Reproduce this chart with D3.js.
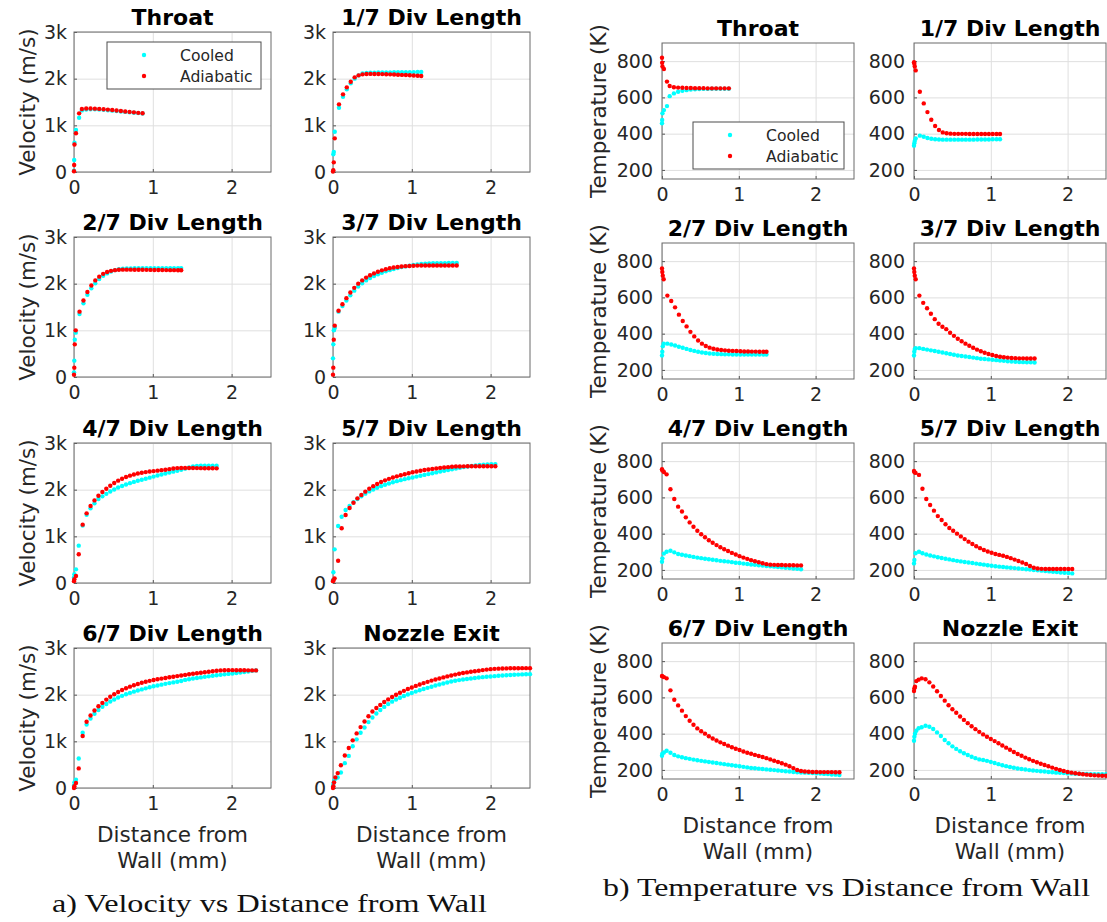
<!DOCTYPE html>
<html>
<head>
<meta charset="utf-8">
<script src="https://cdn.jsdelivr.net/npm/d3@7"></script>
<style>
    body { margin: 0; background: #fff; }
    svg { display: block; font-family: 'DejaVu Sans', sans-serif; }
</style>
</head>
<body>
<script>
// ticks and labels
const xTicks = [0, 1, 2];
const velTicks = [0, 1000, 2000, 3000];
const velTickLabels = ['0', '1k', '2k', '3k'];
const tempTicks = [200, 400, 600, 800];
const seriesNames = ['Cooled', 'Adiabatic'];
const stationTitles = ['Throat', '1/7 Div Length', '2/7 Div Length', '3/7 Div Length',
    '4/7 Div Length', '5/7 Div Length', '6/7 Div Length', 'Nozzle Exit'];

// throat
const throatX = [0, 0.002, 0.006, 0.025, 0.065, 0.1, 0.155, 0.21, 0.265, 0.32, 0.375, 0.43, 0.485, 0.54, 0.595, 0.65, 0.705, 0.76, 0.815, 0.87];
const throatVelCooled = [30, 257, 628, 900, 1164, 1320, 1338, 1342, 1342, 1338, 1332, 1324, 1315, 1306, 1297, 1288, 1279, 1270, 1262, 1255];
const throatVelAdiabatic = [15, 150, 590, 830, 1257, 1350, 1362, 1362, 1358, 1352, 1345, 1337, 1328, 1318, 1308, 1298, 1288, 1278, 1268, 1260];
const throatTempCooled = [457, 475, 512, 530, 552, 607, 622, 631, 636, 640, 643, 645, 646, 647, 647, 648, 648, 648, 648, 648];
const throatTempAdiabatic = [819, 791, 770, 757, 687, 663, 656, 654, 653, 652, 652, 651, 651, 651, 650, 650, 650, 650, 650, 650];

// 1/7 div length
const div1X = [0, 0.004, 0.01, 0.022, 0.076, 0.127, 0.175, 0.225, 0.275, 0.325, 0.375, 0.425, 0.475, 0.525, 0.575, 0.625, 0.675, 0.725, 0.775, 0.825, 0.875, 0.925, 0.975, 1.025, 1.075, 1.12];
const div1VelCooled = [20, 380, 430, 864, 1378, 1614, 1771, 1900, 2000, 2070, 2110, 2122, 2127, 2130, 2132, 2133, 2134, 2135, 2136, 2137, 2138, 2139, 2140, 2141, 2142, 2143];
const div1VelAdiabatic = [10, 40, 207, 721, 1450, 1664, 1814, 1935, 2028, 2071, 2093, 2100, 2102, 2101, 2100, 2098, 2095, 2092, 2089, 2085, 2081, 2077, 2072, 2067, 2062, 2057];
const div1TempCooled = [334, 347, 360, 374, 389, 383, 376, 372, 369, 368, 367, 367, 367, 367, 367, 367, 367, 367, 367, 368, 368, 368, 368, 369, 369, 369];
const div1TempAdiabatic = [794, 785, 770, 749, 631, 567, 519, 477, 442, 420, 407, 402, 400, 399, 399, 399, 399, 398, 398, 398, 398, 398, 398, 398, 398, 398];

// 2/7 div length
const div2X = [0, 0.004, 0.01, 0.022, 0.07, 0.12, 0.17, 0.22, 0.27, 0.32, 0.37, 0.42, 0.47, 0.52, 0.57, 0.62, 0.67, 0.72, 0.77, 0.82, 0.87, 0.92, 0.97, 1.02, 1.07, 1.12, 1.17, 1.22, 1.27, 1.32, 1.36];
const div2VelCooled = [100, 350, 800, 950, 1350, 1580, 1760, 1900, 2010, 2100, 2170, 2220, 2260, 2290, 2310, 2320, 2325, 2328, 2330, 2331, 2332, 2332, 2333, 2333, 2333, 2333, 2334, 2334, 2334, 2334, 2334];
const div2VelAdiabatic = [50, 200, 700, 1000, 1400, 1640, 1820, 1960, 2070, 2150, 2210, 2250, 2275, 2290, 2298, 2300, 2300, 2300, 2299, 2298, 2297, 2296, 2295, 2294, 2293, 2292, 2291, 2290, 2290, 2289, 2288];
const div2TempCooled = [280, 300, 330, 345, 345, 340, 335, 328, 322, 316, 310, 305, 300, 296, 293, 291, 289, 288, 287, 286, 286, 285, 285, 285, 285, 285, 285, 285, 285, 285, 285];
const div2TempAdiabatic = [760, 740, 720, 700, 610, 580, 545, 505, 470, 440, 410, 385, 362, 345, 332, 323, 317, 313, 310, 308, 306, 305, 304, 303, 302, 302, 301, 301, 300, 300, 300];

// 3/7 div length
const div3X = [0, 0.004, 0.01, 0.022, 0.07, 0.12, 0.17, 0.22, 0.27, 0.32, 0.37, 0.42, 0.47, 0.52, 0.57, 0.62, 0.67, 0.72, 0.77, 0.82, 0.87, 0.92, 0.97, 1.02, 1.07, 1.12, 1.17, 1.22, 1.27, 1.32, 1.37, 1.42, 1.47, 1.52, 1.57];
const div3VelCooled = [400, 700, 1000, 1050, 1400, 1520, 1640, 1750, 1850, 1940, 2010, 2070, 2120, 2165, 2200, 2235, 2265, 2290, 2315, 2335, 2355, 2370, 2385, 2400, 2410, 2420, 2428, 2433, 2436, 2438, 2440, 2441, 2442, 2442, 2442];
const div3VelAdiabatic = [50, 200, 800, 1100, 1420, 1560, 1690, 1810, 1910, 2000, 2070, 2130, 2180, 2220, 2255, 2285, 2310, 2330, 2345, 2358, 2368, 2375, 2380, 2384, 2387, 2389, 2390, 2390, 2390, 2390, 2390, 2390, 2389, 2389, 2388];
const div3TempCooled = [280, 300, 315, 320, 320, 316, 312, 308, 304, 300, 296, 292, 288, 284, 280, 277, 274, 271, 268, 265, 262, 260, 258, 256, 254, 252, 250, 248, 246, 245, 244, 243, 242, 242, 241];
const div3TempAdiabatic = [760, 740, 720, 700, 610, 570, 540, 510, 480, 455, 438, 425, 405, 388, 372, 358, 345, 333, 322, 312, 303, 295, 288, 282, 277, 273, 270, 268, 266, 265, 264, 264, 263, 263, 263];

// 4/7 div length
const div4X = [0, 0.005, 0.025, 0.06, 0.11, 0.16, 0.21, 0.26, 0.31, 0.36, 0.41, 0.46, 0.51, 0.56, 0.61, 0.66, 0.71, 0.76, 0.81, 0.86, 0.91, 0.96, 1.01, 1.06, 1.11, 1.16, 1.21, 1.26, 1.31, 1.36, 1.41, 1.46, 1.51, 1.56, 1.61, 1.66, 1.71, 1.76, 1.81];
const div4VelCooled = [120, 190, 293, 800, 1230, 1460, 1600, 1707, 1800, 1857, 1910, 1960, 2005, 2045, 2080, 2112, 2140, 2166, 2190, 2212, 2235, 2258, 2280, 2302, 2324, 2345, 2366, 2386, 2406, 2428, 2450, 2475, 2500, 2508, 2511, 2513, 2514, 2514, 2514];
const div4VelAdiabatic = [40, 80, 150, 615, 1250, 1493, 1650, 1770, 1871, 1950, 2021, 2085, 2143, 2193, 2235, 2270, 2300, 2325, 2345, 2362, 2376, 2388, 2398, 2408, 2418, 2428, 2440, 2452, 2462, 2465, 2465, 2464, 2463, 2462, 2461, 2460, 2459, 2458, 2457];
const div4TempCooled = [245, 264, 290, 300, 306, 297, 288, 284, 280, 276, 272, 268, 265, 262, 259, 256, 253, 250, 248, 246, 243, 240, 238, 235, 233, 230, 228, 226, 224, 222, 220, 218, 216, 214, 212, 210, 208, 206, 204];
const div4TempAdiabatic = [755, 748, 740, 727, 645, 591, 549, 522, 490, 462, 438, 416, 397, 380, 364, 350, 337, 325, 314, 304, 294, 285, 276, 268, 261, 254, 248, 242, 237, 232, 229, 228, 227, 227, 226, 226, 226, 225, 225];

// 5/7 div length
const div5X = [0, 0.005, 0.02, 0.065, 0.11, 0.16, 0.21, 0.26, 0.31, 0.36, 0.41, 0.46, 0.51, 0.56, 0.61, 0.66, 0.71, 0.76, 0.81, 0.86, 0.91, 0.96, 1.01, 1.06, 1.11, 1.16, 1.21, 1.26, 1.31, 1.36, 1.41, 1.46, 1.51, 1.56, 1.61, 1.66, 1.71, 1.76, 1.81, 1.86, 1.91, 1.96, 2.01, 2.06];
const div5VelCooled = [60, 229, 721, 1221, 1421, 1564, 1650, 1730, 1800, 1860, 1915, 1963, 2005, 2042, 2075, 2105, 2133, 2158, 2182, 2204, 2225, 2244, 2262, 2280, 2298, 2316, 2334, 2352, 2370, 2388, 2405, 2422, 2438, 2454, 2470, 2485, 2498, 2510, 2520, 2528, 2535, 2540, 2545, 2548];
const div5VelAdiabatic = [40, 60, 100, 478, 1172, 1457, 1607, 1721, 1814, 1886, 1957, 2020, 2075, 2122, 2163, 2200, 2232, 2260, 2285, 2308, 2330, 2352, 2372, 2390, 2406, 2420, 2433, 2445, 2456, 2466, 2475, 2483, 2490, 2495, 2498, 2500, 2501, 2502, 2502, 2502, 2502, 2502, 2503, 2503];
const div5TempCooled = [236, 255, 292, 300, 292, 285, 280, 275, 270, 266, 262, 258, 254, 250, 247, 244, 241, 238, 235, 232, 229, 226, 223, 220, 218, 216, 214, 212, 210, 208, 206, 204, 202, 200, 198, 196, 194, 192, 190, 188, 186, 184, 183, 181];
const div5TempAdiabatic = [746, 740, 735, 724, 648, 591, 558, 527, 497, 475, 452, 431, 416, 400, 385, 370, 356, 343, 331, 320, 310, 302, 295, 288, 283, 278, 272, 265, 257, 249, 241, 233, 222, 212, 208, 206, 205, 205, 205, 205, 205, 205, 205, 205];

// 6/7 div length
const div6X = [0, 0.005, 0.025, 0.06, 0.11, 0.16, 0.21, 0.26, 0.31, 0.36, 0.41, 0.46, 0.51, 0.56, 0.61, 0.66, 0.71, 0.76, 0.81, 0.86, 0.91, 0.96, 1.01, 1.06, 1.11, 1.16, 1.21, 1.26, 1.31, 1.36, 1.41, 1.46, 1.51, 1.56, 1.61, 1.66, 1.71, 1.76, 1.81, 1.86, 1.91, 1.96, 2.01, 2.06, 2.11, 2.16, 2.21, 2.26, 2.31];
const div6VelCooled = [50, 120, 177, 632, 1185, 1362, 1489, 1590, 1670, 1740, 1800, 1852, 1898, 1938, 1975, 2008, 2038, 2065, 2090, 2113, 2135, 2160, 2180, 2198, 2215, 2232, 2248, 2263, 2278, 2292, 2316, 2330, 2345, 2358, 2370, 2382, 2393, 2404, 2415, 2425, 2435, 2445, 2455, 2465, 2476, 2487, 2498, 2510, 2520];
const div6VelAdiabatic = [0, 40, 107, 420, 1113, 1420, 1553, 1660, 1753, 1824, 1894, 1955, 2010, 2058, 2100, 2138, 2172, 2203, 2230, 2255, 2277, 2296, 2313, 2329, 2344, 2358, 2372, 2385, 2398, 2411, 2424, 2437, 2449, 2460, 2471, 2481, 2492, 2502, 2512, 2520, 2524, 2525, 2525, 2524, 2523, 2522, 2521, 2520, 2520];
const div6TempCooled = [278, 290, 296, 306, 295, 282, 275, 270, 265, 261, 257, 253, 250, 247, 244, 241, 238, 235, 232, 229, 226, 223, 220, 217, 214, 211, 209, 207, 205, 203, 201, 199, 197, 195, 193, 191, 189, 187, 186, 185, 184, 183, 181, 180, 178, 177, 175, 174, 172];
const div6TempAdiabatic = [718, 716, 712, 705, 639, 587, 556, 527, 497, 471, 449, 429, 413, 400, 386, 373, 362, 352, 343, 334, 325, 317, 310, 302, 295, 289, 283, 277, 271, 265, 258, 251, 244, 237, 229, 220, 210, 200, 194, 191, 190, 189, 189, 188, 188, 188, 188, 187, 187];

// nozzle exit
const exitX = [0, 0.005, 0.013, 0.03, 0.06, 0.1, 0.15, 0.2, 0.25, 0.3, 0.35, 0.4, 0.45, 0.5, 0.55, 0.6, 0.65, 0.7, 0.75, 0.8, 0.85, 0.9, 0.95, 1.0, 1.05, 1.1, 1.15, 1.2, 1.25, 1.3, 1.35, 1.4, 1.45, 1.5, 1.55, 1.6, 1.65, 1.7, 1.75, 1.8, 1.85, 1.9, 1.95, 2.0, 2.05, 2.1, 2.15, 2.2, 2.25, 2.3, 2.35, 2.4, 2.45, 2.5];
const exitVelCooled = [33, 90, 150, 200, 225, 333, 532, 688, 894, 1043, 1185, 1298, 1412, 1510, 1595, 1670, 1738, 1798, 1850, 1895, 1935, 1971, 2004, 2036, 2066, 2094, 2121, 2146, 2171, 2195, 2218, 2240, 2262, 2283, 2298, 2312, 2325, 2337, 2348, 2358, 2367, 2375, 2383, 2390, 2397, 2404, 2410, 2416, 2421, 2426, 2430, 2434, 2437, 2440];
const exitVelAdiabatic = [0, 40, 121, 227, 319, 489, 695, 857, 1021, 1170, 1305, 1426, 1538, 1638, 1713, 1781, 1843, 1899, 1950, 1997, 2041, 2082, 2120, 2155, 2188, 2219, 2248, 2275, 2301, 2325, 2348, 2370, 2391, 2411, 2430, 2447, 2463, 2477, 2490, 2502, 2514, 2526, 2537, 2547, 2553, 2558, 2561, 2563, 2565, 2566, 2567, 2568, 2568, 2568];
const exitTempCooled = [361, 383, 400, 416, 430, 435, 444, 438, 426, 407, 387, 365, 347, 330, 316, 303, 292, 282, 273, 265, 258, 255, 250, 244, 238, 232, 226, 221, 216, 212, 208, 205, 202, 199, 197, 195, 193, 191, 189, 187, 185, 184, 183, 181, 180, 179, 179, 178, 178, 177, 177, 177, 177, 177];
const exitTempAdiabatic = [635, 650, 659, 690, 698, 705, 700, 683, 660, 634, 608, 582, 557, 535, 515, 495, 476, 458, 441, 425, 410, 396, 383, 371, 359, 347, 335, 323, 311, 299, 288, 278, 268, 259, 250, 242, 234, 227, 220, 213, 206, 200, 194, 189, 185, 182, 179, 176, 174, 172, 170, 169, 168, 168];

let stations = [
    { x: throatX, vel: [throatVelCooled, throatVelAdiabatic], temp: [throatTempCooled, throatTempAdiabatic] },
    { x: div1X, vel: [div1VelCooled, div1VelAdiabatic], temp: [div1TempCooled, div1TempAdiabatic] },
    { x: div2X, vel: [div2VelCooled, div2VelAdiabatic], temp: [div2TempCooled, div2TempAdiabatic] },
    { x: div3X, vel: [div3VelCooled, div3VelAdiabatic], temp: [div3TempCooled, div3TempAdiabatic] },
    { x: div4X, vel: [div4VelCooled, div4VelAdiabatic], temp: [div4TempCooled, div4TempAdiabatic] },
    { x: div5X, vel: [div5VelCooled, div5VelAdiabatic], temp: [div5TempCooled, div5TempAdiabatic] },
    { x: div6X, vel: [div6VelCooled, div6VelAdiabatic], temp: [div6TempCooled, div6TempAdiabatic] },
    { x: exitX, vel: [exitVelCooled, exitVelAdiabatic], temp: [exitTempCooled, exitTempAdiabatic] }
];

const colors = ['#00ffff', '#ff0000'];
const textColor = '#262626';

let svg = d3.select('body').append('svg')
    .attr('width', 1107)
    .attr('height', 922);

let velPanel = {
    key: 'vel', lefts: [74, 333], tops: [32, 237, 443, 648], w: 197, h: 140,
    yDomain: [0, 3000], yTicks: velTicks, yFormat: (d, i) => velTickLabels[i],
    yLabel: 'Velocity (m/s)', yLabelX: 35, yPad: 7,
    legend: { x: 107, y: 42, w: 154, h: 47 }
};
let tempPanel = {
    key: 'temp', lefts: [662, 914], tops: [43, 243, 443, 643], w: 192, h: 136,
    yDomain: [150, 900], yTicks: tempTicks, yFormat: d => d,
    yLabel: 'Temperature (K)', yLabelX: 606, yPad: 9,
    legend: { x: 693, y: 122, w: 151, h: 47 }
};

function drawPanel(p, st, i) {
    let col = i % 2;
    let row = Math.floor(i / 2);
    let g = svg.append('g').attr('transform', `translate(${p.lefts[col]},${p.tops[row]})`);
    let x = d3.scaleLinear().domain([0, 2.5]).range([0, p.w]);
    let y = d3.scaleLinear().domain(p.yDomain).range([p.h, 0]);

    // grid
    g.append('g').attr('transform', `translate(0,${p.h})`)
        .call(d3.axisBottom(x).tickValues(xTicks).tickSize(-p.h).tickFormat(''))
        .call(a => a.select('.domain').remove())
        .selectAll('line').attr('stroke', '#dfdfdf');
    g.append('g')
        .call(d3.axisLeft(y).tickValues(p.yTicks).tickSize(-p.w).tickFormat(''))
        .call(a => a.select('.domain').remove())
        .selectAll('line').attr('stroke', '#dfdfdf');

    // tick labels + small inward ticks
    let xa = g.append('g').attr('transform', `translate(0,${p.h})`)
        .call(d3.axisBottom(x).tickValues(xTicks).tickSize(-3).tickPadding(9).tickFormat(d => d));
    let ya = g.append('g')
        .call(d3.axisLeft(y).tickValues(p.yTicks).tickSize(-3).tickPadding(p.yPad).tickFormat(p.yFormat));
    [xa, ya].forEach(a => {
        a.select('.domain').remove();
        a.selectAll('line').attr('stroke', '#555');
        a.selectAll('text').attr('fill', textColor).style('font-size', '19px').style('font-family', 'DejaVu Sans');
    });

    g.append('rect').attr('width', p.w).attr('height', p.h)
        .attr('fill', 'none').attr('stroke', '#6b6b6b').attr('stroke-width', 1);

    // points, cooled first so adiabatic sits on top
    st[p.key].forEach((ys, k) => {
        g.append('g').selectAll('circle').data(ys).enter().append('circle')
            .attr('cx', (d, j) => x(st.x[j]))
            .attr('cy', d => y(d))
            .attr('r', 2.2)
            .attr('fill', colors[k]);
    });

    g.append('text')
        .attr('x', p.w / 2).attr('y', -7)
        .attr('text-anchor', 'middle')
        .style('font-size', '22px').style('font-weight', 'bold')
        .text(stationTitles[i]);

    if (col === 0) {
        svg.append('text')
            .attr('transform', `translate(${p.yLabelX},${p.tops[row] + p.h / 2}) rotate(-90)`)
            .attr('text-anchor', 'middle')
            .attr('fill', textColor)
            .style('font-size', '21.5px')
            .text(p.yLabel);
    }
    if (row === 3) {
        ['Distance from', 'Wall (mm)'].forEach((t, k) => {
            g.append('text')
                .attr('x', p.w / 2).attr('y', p.h + 54 + k * 26)
                .attr('text-anchor', 'middle')
                .attr('fill', textColor)
                .style('font-size', '21.5px')
                .text(t);
        });
    }
}

function drawLegend(p) {
    let l = p.legend;
    let g = svg.append('g').attr('transform', `translate(${l.x},${l.y})`);
    g.append('rect').attr('width', l.w).attr('height', l.h)
        .attr('fill', '#fff').attr('stroke', '#4d4d4d').attr('stroke-width', 1);
    seriesNames.forEach((name, k) => {
        g.append('circle').attr('cx', 37).attr('cy', 13 + k * 21).attr('r', 2.2).attr('fill', colors[k]);
        g.append('text').attr('x', 73).attr('y', 19 + k * 21)
            .attr('fill', textColor)
            .style('font-size', '15.6px')
            .text(name);
    });
}

[velPanel, tempPanel].forEach(p => {
    stations.forEach((st, i) => drawPanel(p, st, i));
    drawLegend(p);
});

// captions
let captions = [
    { text: 'a) Velocity vs Distance from Wall', x: 52, y: 912, len: 435 },
    { text: 'b) Temperature vs Distance from Wall', x: 603, y: 896, len: 487 }
];
svg.selectAll('.caption').data(captions).enter().append('text')
    .attr('class', 'caption')
    .attr('x', d => d.x).attr('y', d => d.y)
    .attr('textLength', d => d.len)
    .attr('lengthAdjust', 'spacingAndGlyphs')
    .style('font-family', "'Liberation Serif', serif")
    .style('font-size', '25px')
    .attr('fill', '#111')
    .text(d => d.text);
</script>
</body>
</html>
